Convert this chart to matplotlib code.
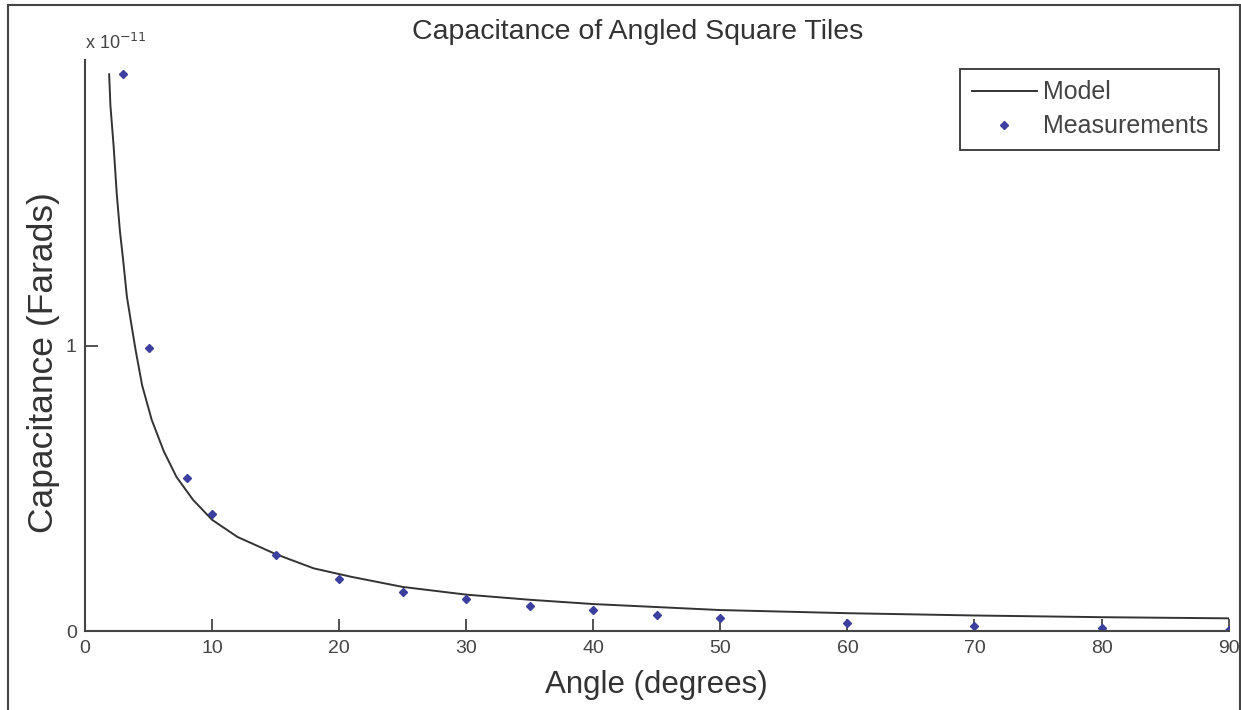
import numpy as np
import matplotlib.pyplot as plt
from matplotlib.patches import Rectangle

plt.rcParams['font.family'] = ['Liberation Sans', 'DejaVu Sans']

# model curve (angle in degrees, capacitance in 1e-11 F)
model_angle = [1.9, 2.0, 2.25, 2.5, 2.75, 3.0, 3.3, 3.7, 4.0, 4.5, 5.25, 6.2, 7.2,
               8.5, 10, 12, 15, 18, 21, 25, 30, 35, 40, 50, 60, 70, 80, 90]
model_cap = [1.95, 1.84, 1.70, 1.53, 1.40, 1.30, 1.17, 1.06, 0.98, 0.86, 0.74, 0.63, 0.54,
             0.46, 0.39, 0.33, 0.27, 0.22, 0.19, 0.155, 0.128, 0.110, 0.095, 0.074,
             0.063, 0.055, 0.049, 0.045]

# measured points
meas_angle = [3, 5, 8, 10, 15, 20, 25, 30, 35, 40, 45, 50, 60, 70, 80, 90]
meas_cap = [1.95, 0.99, 0.535, 0.412, 0.266, 0.183, 0.137, 0.111, 0.088, 0.073,
            0.056, 0.045, 0.030, 0.017, 0.011, 0.005]

scale = 1e-11
xticks = [0, 10, 20, 30, 40, 50, 60, 70, 80, 90]
yticks = [0, 1]

fig = plt.figure(figsize=(12.41, 7.10), dpi=100)
ax = fig.add_axes([0.0685, 0.111, 0.9215, 0.8045])

ax.plot(model_angle, np.array(model_cap) * scale, color='#333333', linewidth=1.4,
        label='Model')
ax.plot(meas_angle, np.array(meas_cap) * scale, linestyle='none', marker='D',
        markersize=4.5, color='#3b3f9e', label='Measurements')

ax.set_xlim(0, 90)
ax.set_ylim(0, 2.0e-11)
ax.set_xticks(xticks)
ax.set_xticklabels([str(t) for t in xticks])
ax.set_yticks([t * scale for t in yticks])
ax.set_yticklabels([str(t) for t in yticks])

for s in ['top', 'right']:
  ax.spines[s].set_visible(False)
for s in ['left', 'bottom']:
  ax.spines[s].set_color('#444444')
  ax.spines[s].set_linewidth(1.5)
ax.tick_params(direction='in', length=9, width=1.3, color='#444444',
               labelsize=14, labelcolor='#444444', pad=6)

ax.text(0, 1.012, 'x 10$^{-11}$', transform=ax.transAxes, fontsize=13,
        color='#444444', va='bottom', ha='left')

fig.text(0.514, 0.955, 'Capacitance of Angled Square Tiles', fontsize=20.5,
         color='#333333', ha='center', va='center')
ax.set_xlabel('Angle (degrees)', fontsize=22.5, color='#333333', labelpad=10)
ax.set_ylabel('Capacitance (Farads)', fontsize=25.5, color='#333333')
ax.yaxis.set_label_coords(-0.022, 0.471)

leg = ax.legend(loc='upper right', bbox_to_anchor=(0.992, 0.984), fontsize=18,
                handlelength=2.6, handletextpad=0.25, fancybox=False,
                edgecolor='#333333', framealpha=1, borderpad=0.45, labelspacing=0.4,
                borderaxespad=0)
leg.get_frame().set_linewidth(1.3)
for t in leg.get_texts():
  t.set_color('#444444')

# outer frame of the scanned figure
fig.patches.append(Rectangle((0.0065, -0.05), 0.9925, 1.043, transform=fig.transFigure,
                             fill=False, edgecolor='#444444', linewidth=1.5))

fig.savefig('out.png', dpi=100)
